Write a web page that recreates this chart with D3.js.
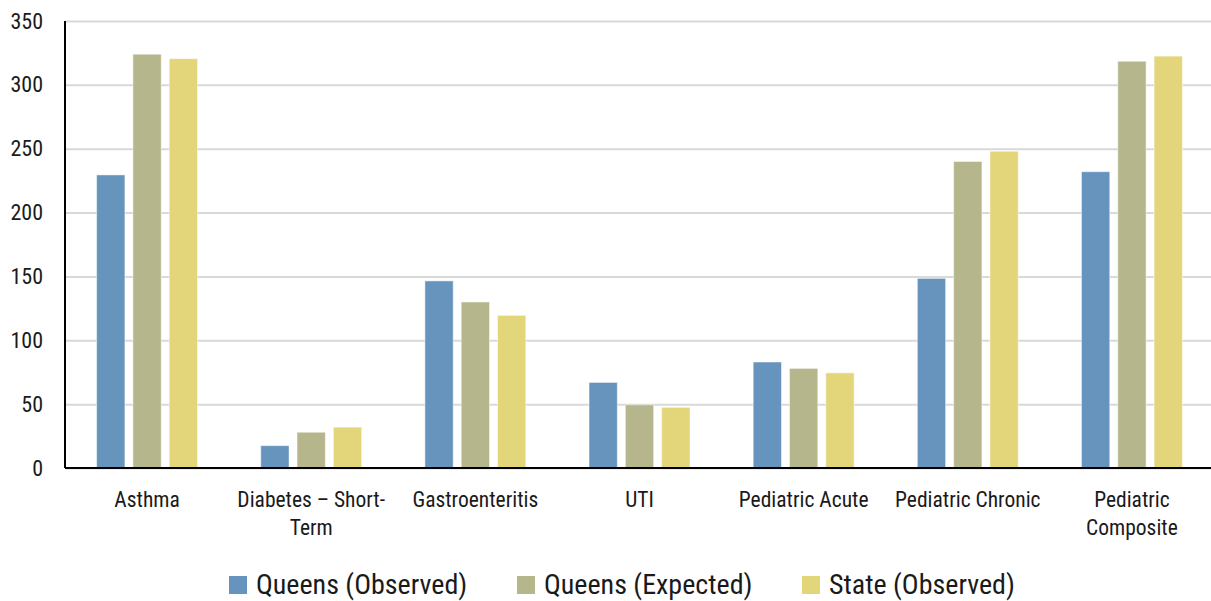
<!DOCTYPE html>
<html>
<head>
<meta charset="utf-8">
<script src="https://cdn.jsdelivr.net/npm/d3@7"></script>
<style>
  body { margin: 0; background: #fff; }
  text { font-family: "Liberation Sans Narrow", "Roboto Condensed", "Roboto", sans-serif; fill: #1a1a1a; }
</style>
</head>
<body>
<div id="chart"></div>
<script>
// Data
var categories = ["Asthma", "Diabetes – Short-Term", "Gastroenteritis", "UTI", "Pediatric Acute", "Pediatric Chronic", "Pediatric Composite"];
var categoryLines = [["Asthma"], ["Diabetes – Short-", "Term"], ["Gastroenteritis"], ["UTI"], ["Pediatric Acute"], ["Pediatric Chronic"], ["Pediatric", "Composite"]];
var seriesNames = ["Queens (Observed)", "Queens (Expected)", "State (Observed)"];
var queensObserved = [229.5, 17.5, 146.5, 67, 83, 148.5, 232];
var queensExpected = [324, 28, 130, 49.5, 78, 240, 318.5];
var stateObserved = [320.5, 32, 119.5, 47.5, 74.5, 248, 322.5];
var yTicks = [0, 50, 100, 150, 200, 250, 300, 350];

var colors = ["#6794bd", "#b5b68c", "#e2d57a"];
var seriesValues = [queensObserved, queensExpected, stateObserved];

var svgWidth = 1211;
var svgHeight = 601;
var margin = { top: 21, right: -3, bottom: 133, left: 65 };
var width = svgWidth - margin.left - margin.right;
var height = svgHeight - margin.top - margin.bottom;

var svg = d3.select("#chart")
    .append("svg")
    .attr("width", svgWidth)
    .attr("height", svgHeight);

var chartGroup = svg.append("g")
    .attr("transform", `translate(${margin.left}, ${margin.top})`);

// scales
var x0 = d3.scaleBand()
    .domain(categories)
    .range([0, width])
    .paddingInner(0.385)
    .paddingOuter(0.1925);

var x1 = d3.scaleBand()
    .domain(seriesNames)
    .range([0, x0.bandwidth()])
    .paddingInner(0.22);

var y = d3.scaleLinear()
    .domain([0, 350])
    .range([height, 0]);

// gridlines
chartGroup.append("g")
    .call(d3.axisLeft(y).tickValues(yTicks).tickSize(-width).tickFormat(""))
    .call(g => g.select(".domain").remove())
    .call(g => g.selectAll("line").attr("stroke", "#d9d9d9").attr("stroke-width", 2));

// bars
var groups = chartGroup.selectAll(".cat")
    .data(categories)
    .enter().append("g")
    .attr("transform", d => `translate(${x0(d)}, 0)`);

groups.selectAll("rect")
    .data((d, i) => seriesNames.map((s, j) => ({ series: s, value: seriesValues[j][i], color: colors[j] })))
    .enter().append("rect")
    .attr("x", d => x1(d.series))
    .attr("y", d => y(d.value))
    .attr("width", x1.bandwidth())
    .attr("height", d => height - y(d.value))
    .attr("fill", d => d.color)
    .attr("stroke", "#ffffff")
    .attr("stroke-opacity", 0.5)
    .attr("stroke-width", 1);

// y axis labels
var leftAxis = d3.axisLeft(y).tickValues(yTicks).tickSize(0).tickPadding(22);
chartGroup.append("g")
    .call(leftAxis)
    .call(g => g.select(".domain").remove())
    .call(g => g.selectAll("text").attr("font-size", "22px").attr("font-family", null).attr("fill", "#1a1a1a"));

// axis lines
chartGroup.append("line")
    .attr("x1", 0).attr("x2", 0)
    .attr("y1", 0).attr("y2", height)
    .attr("stroke", "#000").attr("stroke-width", 2);
chartGroup.append("line")
    .attr("x1", 0).attr("x2", width)
    .attr("y1", height).attr("y2", height)
    .attr("stroke", "#000").attr("stroke-width", 2);

// category labels
var catLabels = chartGroup.selectAll(".catLabel")
    .data(categories)
    .enter().append("text")
    .attr("class", "catLabel")
    .attr("text-anchor", "middle")
    .attr("font-size", "21.5px")
    .attr("transform", d => `translate(${x0(d) + x0.bandwidth() / 2}, ${height + 39})`);

catLabels.selectAll("tspan")
    .data((d, i) => categoryLines[i])
    .enter().append("tspan")
    .attr("x", 0)
    .attr("dy", (d, i) => i === 0 ? 0 : 28)
    .text(d => d);

// legend
var legendX = [229, 517, 802];
var legend = svg.selectAll(".legend")
    .data(seriesNames)
    .enter().append("g")
    .attr("transform", (d, i) => `translate(${legendX[i]}, 576)`);

legend.append("rect")
    .attr("width", 18).attr("height", 18)
    .attr("fill", (d, i) => colors[i]);

legend.append("text")
    .attr("x", 27)
    .attr("y", 18)
    .attr("font-size", "28px")
    .text(d => d);
</script>
</body>
</html>
